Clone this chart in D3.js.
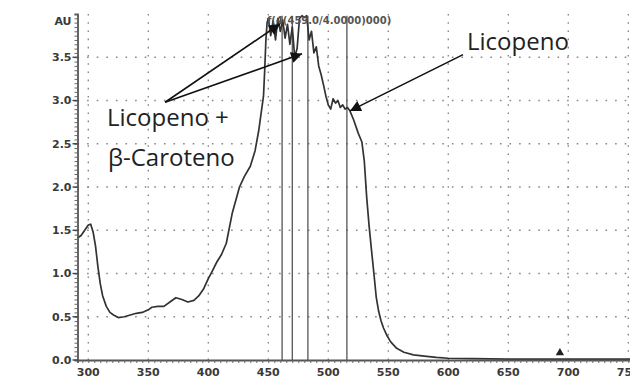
<!DOCTYPE html>
<html>
<head>
<meta charset="utf-8">
<script src="https://cdn.jsdelivr.net/npm/d3@7"></script>
<style>
  body { margin: 0; background: #fff; }
  svg { display: block; }
</style>
</head>
<body>
<div id="app"></div>
<script>
// spectrum: wavelength (nm) and absorbance (AU)
const wavelength = [291, 294, 297, 300, 302, 304, 306, 308, 310, 312, 315, 318, 321, 325, 330, 335, 340, 345, 350, 353, 358, 363, 368, 373, 378, 383, 388, 392, 396, 400, 403, 407, 411, 415, 420, 423, 426, 430, 435, 439, 442, 444, 446, 447, 448, 449,
  450, 452, 454, 456, 458, 460, 462, 464, 466, 468, 470, 472, 474, 476, 478, 480, 482, 484, 486, 488, 490, 492, 494, 496, 498, 500, 502, 504, 506, 508, 510, 512, 514, 516, 518,
  521, 525, 528, 530, 532, 534, 536, 538, 540, 542, 544, 546, 549, 552, 557, 563, 571, 580, 590, 600, 620, 650, 700, 752];
const absorbance = [1.41, 1.44, 1.50, 1.56, 1.57, 1.48, 1.32, 1.08, 0.88, 0.74, 0.62, 0.55, 0.52, 0.49, 0.50, 0.52, 0.54, 0.55, 0.58, 0.61, 0.62, 0.62, 0.67, 0.72, 0.70, 0.67, 0.69, 0.74, 0.82, 0.94, 1.02, 1.13, 1.22, 1.35, 1.70, 1.85, 2.00, 2.12, 2.24, 2.42, 2.65, 2.85, 3.05, 3.35, 3.70, 3.90,
  3.95, 3.75, 3.92, 3.70, 3.95, 3.80, 3.93, 3.72, 3.88, 3.65, 3.85, 3.50, 3.60, 3.95, 3.98, 3.96, 3.98, 3.70, 3.80, 3.55, 3.62, 3.40, 3.30, 3.18, 3.05, 2.95, 2.90, 3.02, 2.97, 3.00, 2.92, 2.95, 2.90, 2.92, 2.88,
  2.78, 2.62, 2.52, 2.30, 1.88, 1.55, 1.27, 1.00, 0.72, 0.56, 0.45, 0.37, 0.28, 0.21, 0.135, 0.09, 0.06, 0.045, 0.03, 0.02, 0.015, 0.01, 0.01, 0.01];

// vertical lines where the detector saturates
const spikeNm = [461.5, 470, 483, 515.5];
const markerNm = 693, markerAU = 0.06;

const xTicks = [300, 350, 400, 450, 500, 550, 600, 650, 700, 750];
const yTicks = [0.0, 0.5, 1.0, 1.5, 2.0, 2.5, 3.0, 3.5];
const yTickLabels = ["0.0", "0.5", "1.0", "1.5", "2.0", "2.5", "3.0", "3.5"];
const yUnit = "AU";
const peakLabel = "f(4(459.0/4.0000)000)";

// annotations in data units [nm, AU]
const notes = [
  { text: "Licopeno +", at: [315.6, 2.70] },
  { text: "β-Caroteno", at: [316.4, 2.24] },
  { text: "Licopeno", at: [615.6, 3.58] }
];
const arrows = [
  { from: [364, 2.98], to: [459.8, 3.885] },
  { from: [364, 2.98], to: [478.1, 3.54] },
  { from: [612.3, 3.53], to: [518, 2.88] }
];

const w = 630, h = 385;
const svg = d3.select("#app").append("svg")
  .attr("width", w)
  .attr("height", h)
  .style("background-color", "#fff");

const x = d3.scaleLinear().domain([291, 752]).range([77.5, 630.7]);
const y = d3.scaleLinear().domain([0, 4]).range([360, 14]);

const defs = svg.append("defs");
defs.append("marker")
  .attr("id", "head")
  .attr("viewBox", "0 0 10 10")
  .attr("refX", 10).attr("refY", 5)
  .attr("markerWidth", 14).attr("markerHeight", 11)
  .attr("markerUnits", "userSpaceOnUse")
  .attr("orient", "auto")
  .append("path").attr("d", "M0,0 L10,5 L0,10 Z").attr("fill", "#111");

// dotted grid
svg.append("g").selectAll("line")
  .data(xTicks)
  .enter().append("line")
  .attr("x1", d => x(d)).attr("x2", d => x(d))
  .attr("y1", y(4)).attr("y2", y(0))
  .attr("stroke", "#888").attr("stroke-width", 1.4)
  .attr("stroke-dasharray", "1.6,6.6");

svg.append("g").selectAll("line")
  .data(yTicks.slice(1))
  .enter().append("line")
  .attr("x1", x(291)).attr("x2", w)
  .attr("y1", d => y(d)).attr("y2", d => y(d))
  .attr("stroke", "#888").attr("stroke-width", 1.4)
  .attr("stroke-dasharray", "1.6,8");

// saturation lines
svg.append("g").selectAll("line")
  .data(spikeNm)
  .enter().append("line")
  .attr("x1", d => x(d)).attr("x2", d => x(d))
  .attr("y1", y(3.98)).attr("y2", y(0))
  .attr("stroke", "#555").attr("stroke-width", 1.3);

// spectrum
const line = d3.line().x(d => x(d[0])).y(d => y(d[1])).curve(d3.curveLinear);
svg.append("path")
  .datum(d3.zip(wavelength, absorbance))
  .attr("d", line)
  .attr("fill", "none")
  .attr("stroke", "#333")
  .attr("stroke-width", 1.7)
  .attr("stroke-linejoin", "round");

svg.append("path")
  .attr("d", d3.symbol(d3.symbolTriangle, 30)())
  .attr("transform", "translate(" + x(markerNm) + "," + (y(markerAU) - 2) + ")")
  .attr("fill", "#222");

// axes
const xAxis = d3.axisBottom(x).tickValues(d3.range(295, 752, 5)).tickSize(3).tickFormat("");
const gx = svg.append("g").attr("transform", "translate(0," + y(0) + ")").call(xAxis);
gx.selectAll("line").attr("stroke", "#666");
gx.select(".domain").attr("stroke", "#555").attr("stroke-width", 1.8);
gx.append("g").selectAll("text")
  .data(xTicks)
  .enter().append("text")
  .attr("x", d => x(d)).attr("y", 16)
  .attr("text-anchor", "middle")
  .style("font", "bold 11px 'DejaVu Sans'")
  .attr("fill", "#3a3a3a")
  .text(d => d);

const yAxis = d3.axisLeft(y).tickValues(d3.range(0, 4.001, 0.05)).tickSize(3).tickFormat("");
const gy = svg.append("g").attr("transform", "translate(" + x(291) + ",0)").call(yAxis);
gy.selectAll("line").attr("stroke", "#666");
gy.select(".domain").attr("stroke", "#555").attr("stroke-width", 1.8);
gy.append("g").selectAll("line")
  .data(yTicks)
  .enter().append("line")
  .attr("x1", -5).attr("x2", 0)
  .attr("y1", d => y(d)).attr("y2", d => y(d))
  .attr("stroke", "#444").attr("stroke-width", 1.4);
gy.append("g").selectAll("text")
  .data(yTicks)
  .enter().append("text")
  .attr("x", -6).attr("y", d => y(d)).attr("dy", "0.36em")
  .attr("text-anchor", "end")
  .style("font", "bold 11px 'DejaVu Sans'")
  .attr("fill", "#3a3a3a")
  .text((d, i) => yTickLabels[i]);
gy.append("text")
  .attr("x", -6).attr("y", y(3.92)).attr("dy", "0.36em")
  .attr("text-anchor", "end")
  .style("font", "bold 11px 'DejaVu Sans'")
  .attr("fill", "#3a3a3a")
  .text(yUnit);

svg.append("text")
  .attr("x", x(448.9)).attr("y", y(3.88))
  .style("font", "bold 10px 'DejaVu Sans'")
  .attr("fill", "#555")
  .text(peakLabel);

// annotations
svg.append("g").selectAll("line")
  .data(arrows)
  .enter().append("line")
  .attr("x1", d => x(d.from[0])).attr("y1", d => y(d.from[1]))
  .attr("x2", d => x(d.to[0])).attr("y2", d => y(d.to[1]))
  .attr("stroke", "#111").attr("stroke-width", 1.6)
  .attr("marker-end", "url(#head)");

svg.append("g").selectAll("text")
  .data(notes)
  .enter().append("text")
  .attr("x", d => x(d.at[0])).attr("y", d => y(d.at[1]))
  .style("font", "24px 'Open Sans'")
  .attr("fill", "#222")
  .text(d => d.text);
</script>
</body>
</html>
